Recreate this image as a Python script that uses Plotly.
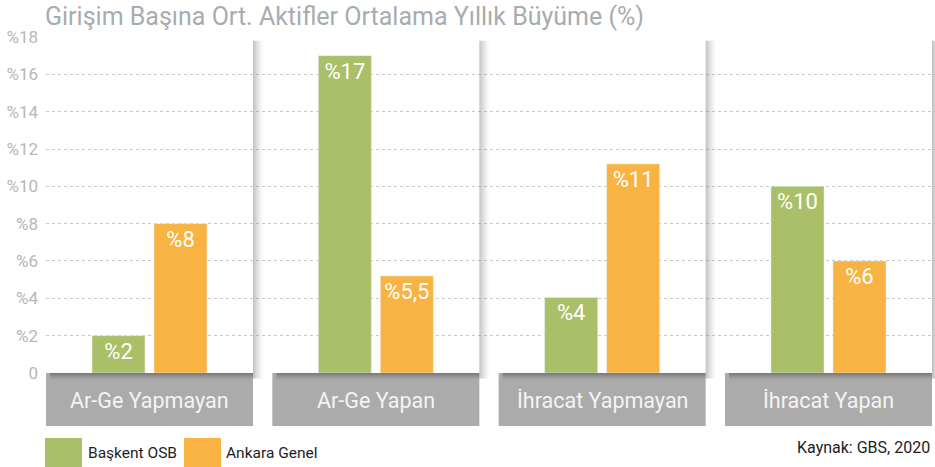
import plotly.graph_objects as go

# ---- data ----
categories = ["Ar-Ge Yapmayan", "Ar-Ge Yapan", "İhracat Yapmayan", "İhracat Yapan"]
series_names = ["Başkent OSB", "Ankara Genel"]
baskent_values = [2.0, 17.0, 4.05, 10.0]
ankara_values = [8.0, 5.2, 11.2, 6.0]
baskent_labels = ["%2", "%17", "%4", "%10"]
ankara_labels = ["%8", "%5,5", "%11", "%6"]
y_tickvals = [0, 2, 4, 6, 8, 10, 12, 14, 16, 18]
y_ticktext = ["0", "%2", "%4", "%6", "%8", "%10", "%12", "%14", "%16", "%18"]
title_text = "Girişim Başına Ort. Aktifler Ortalama Yıllık Büyüme (%)"
source_text = "Kaynak: GBS, 2020"

# ---- style ----
GREEN = "#aabf67"
ORANGE = "#f8b343"
BOX = "#ababab"
FONT = "Roboto"
PX = 226.3  # pixels per x unit (for small decorative offsets)
BAR_W = 53 / PX
HALF = 103.5 / PX
Y_MIN = -2.84

x = list(range(len(categories)))

fig = go.Figure()
fig.add_trace(go.Bar(
    x=x, y=baskent_values, name=series_names[0], marker_color=GREEN,
    width=BAR_W, offset=-57.5 / PX, text=baskent_labels,
    textposition="inside", insidetextanchor="end", textangle=0,
    textfont=dict(family=FONT, size=22, color="white"), hoverinfo="skip",
))
fig.add_trace(go.Bar(
    x=x, y=ankara_values, name=series_names[1], marker_color=ORANGE,
    width=BAR_W, offset=4.5 / PX, text=ankara_labels,
    textposition="inside", insidetextanchor="end", textangle=0,
    textfont=dict(family=FONT, size=22, color="white"), hoverinfo="skip",
))

shapes = []
annotations = []
for i, cat in enumerate(categories):
    # panel shadow on the right side of each panel
    for k in range(11):
        a = 0.42 * (1 - k / 11) ** 1.6
        shapes.append(dict(
            type="rect", xref="x", yref="y", layer="between",
            x0=i + HALF + k / PX, x1=i + HALF + (k + 1) / PX,
            y0=-0.3, y1=17.8, line=dict(width=0),
            fillcolor="rgb(110,110,110)", opacity=a,
        ))
    # category box
    shapes.append(dict(
        type="rect", xref="x", yref="y", layer="above",
        x0=i - HALF, x1=i + HALF, y0=Y_MIN, y1=0,
        line=dict(width=0), fillcolor=BOX,
    ))
    # top shadow on the box
    for k in range(7):
        a = 0.28 * (1 - k / 7) ** 1.4
        shapes.append(dict(
            type="rect", xref="x", yref="y", layer="above",
            x0=i - HALF + 4 / PX, x1=i + HALF,
            y0=-(k + 1) / 18.667, y1=-k / 18.667,
            line=dict(width=0), fillcolor="black", opacity=a,
        ))
    annotations.append(dict(
        x=i, y=-1.5, xref="x", yref="y", text=cat, showarrow=False,
        xanchor="center", yanchor="middle",
        font=dict(family=FONT, size=21.5, color="#f4f4f4"),
    ))

# legend (custom)
def xp(px):
    return (px - 46) / 889

def yp(py):
    return (426 - py) / 389

for (x0, x1, tx), color, name in zip([(45, 82, 86), (184, 221, 224)], [GREEN, ORANGE], series_names):
    shapes.append(dict(
        type="rect", xref="paper", yref="paper",
        x0=xp(x0), x1=xp(x1), y0=yp(467), y1=yp(438),
        line=dict(width=0), fillcolor=color,
    ))
    annotations.append(dict(
        x=xp(tx), y=yp(453), xref="paper", yref="paper", text=name,
        showarrow=False, xanchor="left", yanchor="middle",
        font=dict(family=FONT, size=15.5, color="#1e1e1e"),
    ))

annotations.append(dict(
    x=xp(932), y=yp(448), xref="paper", yref="paper", text=source_text,
    showarrow=False, xanchor="right", yanchor="middle",
    font=dict(family=FONT, size=16, color="#222222"),
))

fig.update_layout(
    width=935, height=467,
    margin=dict(l=46, r=0, t=37, b=41, autoexpand=False),
    paper_bgcolor="white", plot_bgcolor="white",
    barmode="overlay", showlegend=False,
    title=dict(
        text=title_text, x=45 / 935, xanchor="left", xref="container",
        y=1 - 16 / 467, yanchor="middle", yref="container",
        font=dict(family=FONT, size=25, color="#a7acaf"),
    ),
    xaxis=dict(range=[-HALF, 3 + (935 - 828.5) / PX], showgrid=False,
               zeroline=False, showticklabels=False, fixedrange=True,
               automargin=False),
    yaxis=dict(range=[Y_MIN, 18], tickvals=y_tickvals, ticktext=y_ticktext,
               showgrid=True, gridcolor="#c8c8c8", griddash="dot", gridwidth=1,
               zeroline=True, zerolinecolor="white", zerolinewidth=1,
               ticks="", ticklabelstandoff=7, automargin=False,
               tickfont=dict(family=FONT, size=17, color="#b3b8bc"),
               fixedrange=True),
    shapes=shapes, annotations=annotations,
)

fig.write_html("out.html", config={"displayModeBar": False},
               post_script="document.body.style.margin='0';")
